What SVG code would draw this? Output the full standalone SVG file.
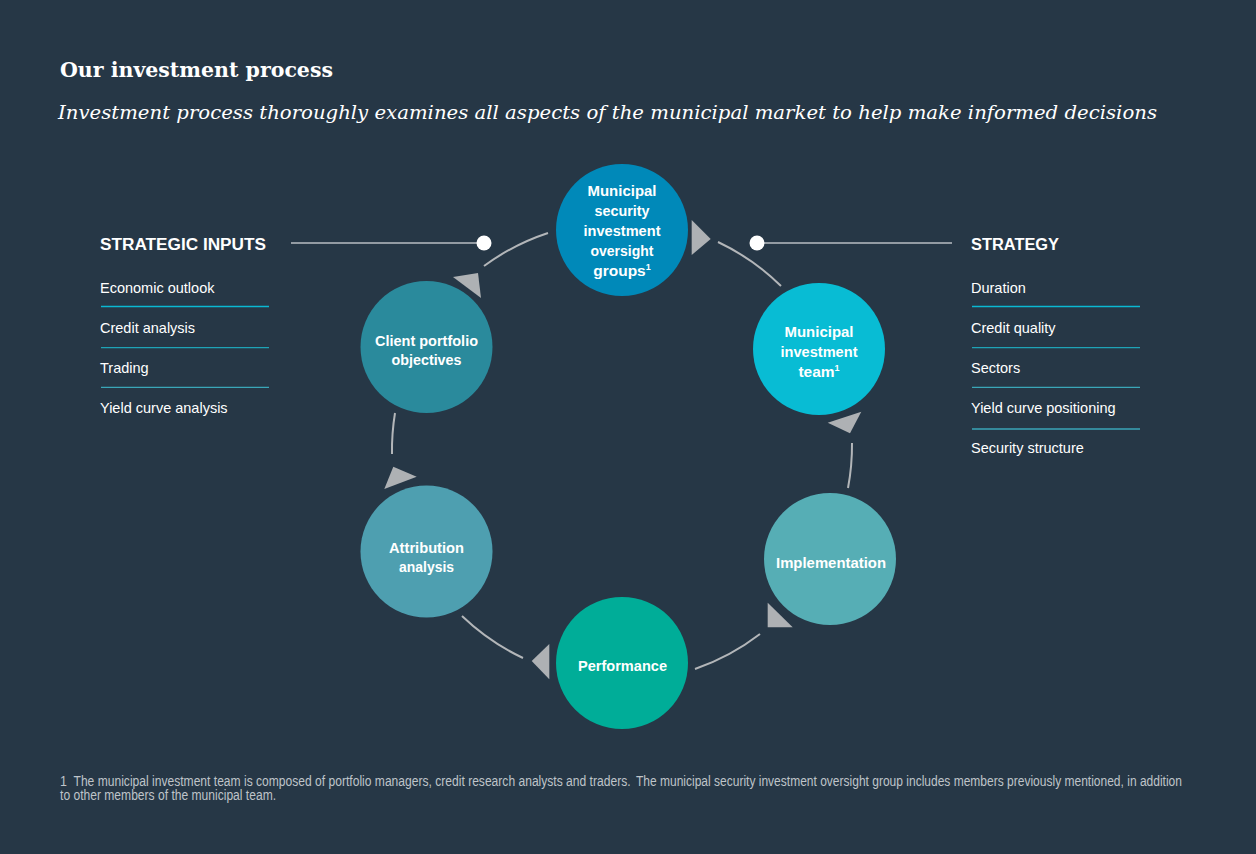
<svg xmlns="http://www.w3.org/2000/svg" width="1256" height="854" viewBox="0 0 1256 854">
<style>
.bg{fill:#263746}
.title{font-family:"DejaVu Serif","Liberation Serif",serif;font-weight:bold;font-size:20.5px;fill:#ffffff}
.sub{font-family:"DejaVu Serif","Liberation Serif",serif;font-style:italic;font-size:19px;fill:#ffffff}
.node{font-family:"Liberation Sans",Arial,sans-serif;font-weight:bold;font-size:15.5px;fill:#ffffff;text-anchor:middle}
.hdr{font-family:"Liberation Sans",Arial,sans-serif;font-weight:bold;font-size:16px;fill:#ffffff}
.item{font-family:"Liberation Sans",Arial,sans-serif;font-size:14.5px;fill:#ffffff}
.foot{font-family:"Liberation Sans",Arial,sans-serif;font-size:14.5px;fill:#bfc4c9}
.arc{fill:none;stroke:#b3b6b9;stroke-width:2}
.tri{fill:#aeb1b4}
.lead{stroke:#ffffff;stroke-width:1.2}
.dot{fill:#ffffff}
.sep1{stroke:#0ab8d2;stroke-width:1.3}
.sep2{stroke:#1ea3b6;stroke-width:1.3}
.sep3{stroke:#3aa6b8;stroke-width:1.3}
</style>
<rect class="bg" x="0" y="0" width="1256" height="854"/>
<text class="title" x="60" y="77" textLength="273" lengthAdjust="spacingAndGlyphs">Our investment process</text>
<text class="sub" x="58" y="118.5" textLength="1099" lengthAdjust="spacingAndGlyphs">Investment process thoroughly examines all aspects of the municipal market to help make informed decisions</text>

<g id="connectors">
<path class="arc" d="M484,266 A230,230 0 0 1 548,233"/>
<path class="arc" d="M718,242 A230,230 0 0 1 781,286"/>
<path class="arc" d="M852,443 A230,230 0 0 1 848,488"/>
<path class="arc" d="M760,634 A230,230 0 0 1 695,669"/>
<path class="arc" d="M523,658 A230,230 0 0 1 462,616"/>
<path class="arc" d="M392,454 A230,230 0 0 1 395,413"/>
<polygon class="tri" points="691.7,220 691.7,255 710.7,239"/>
<polygon class="tri" points="827.7,422.7 861.3,411.7 850,433.3"/>
<polygon class="tri" points="767.7,602.7 767.7,627.3 792.7,627.3"/>
<polygon class="tri" points="531.7,661 549.3,644 549.3,679.3"/>
<polygon class="tri" points="384.3,489 393.3,466.7 416.7,476.7"/>
<polygon class="tri" points="453,277 478,273 481,298"/>
<line class="lead" x1="291" y1="243" x2="484" y2="243"/>
<circle class="dot" cx="484" cy="243" r="7.5"/>
<line class="lead" x1="757" y1="243" x2="952" y2="243"/>
<circle class="dot" cx="757" cy="243" r="7.5"/>
</g>

<g id="node-oversight">
<circle cx="622" cy="230" r="66" fill="#0089b9"/>
<text class="node" x="622" y="196" textLength="69" lengthAdjust="spacingAndGlyphs">Municipal</text>
<text class="node" x="622" y="216" textLength="55" lengthAdjust="spacingAndGlyphs">security</text>
<text class="node" x="622" y="236" textLength="77" lengthAdjust="spacingAndGlyphs">investment</text>
<text class="node" x="622" y="256" textLength="63" lengthAdjust="spacingAndGlyphs">oversight</text>
<text class="node" x="622" y="276">groups<tspan font-size="9" dy="-6">1</tspan></text>
</g>

<g id="node-team">
<circle cx="819" cy="349" r="66" fill="#08bcd4"/>
<text class="node" x="819" y="337" textLength="69" lengthAdjust="spacingAndGlyphs">Municipal</text>
<text class="node" x="819" y="357" textLength="77" lengthAdjust="spacingAndGlyphs">investment</text>
<text class="node" x="819" y="377">team<tspan font-size="9" dy="-6">1</tspan></text>
</g>

<g id="node-implementation">
<circle cx="830" cy="559" r="66" fill="#56aeb5"/>
<text class="node" x="831" y="568" textLength="110" lengthAdjust="spacingAndGlyphs">Implementation</text>
</g>

<g id="node-performance">
<circle cx="622" cy="663" r="66" fill="#00ad98"/>
<text class="node" x="622.5" y="671" textLength="89" lengthAdjust="spacingAndGlyphs">Performance</text>
</g>

<g id="node-attribution">
<circle cx="426.5" cy="551.5" r="66" fill="#4e9fb0"/>
<text class="node" x="426.5" y="552.5" textLength="75" lengthAdjust="spacingAndGlyphs">Attribution</text>
<text class="node" x="426.5" y="572" textLength="55" lengthAdjust="spacingAndGlyphs">analysis</text>
</g>

<g id="node-client">
<circle cx="426.5" cy="347" r="66" fill="#2a8a9c"/>
<text class="node" x="426.5" y="345.5" textLength="103" lengthAdjust="spacingAndGlyphs">Client portfolio</text>
<text class="node" x="426.5" y="365" textLength="70" lengthAdjust="spacingAndGlyphs">objectives</text>
</g>

<g id="strategic-inputs">
<text class="hdr" x="100" y="249.5" textLength="166" lengthAdjust="spacingAndGlyphs">STRATEGIC INPUTS</text>
<text class="item" x="100" y="292.7">Economic outlook</text>
<line class="sep1" x1="101" y1="306.5" x2="269" y2="306.5"/>
<text class="item" x="100" y="332.7">Credit analysis</text>
<line class="sep2" x1="101" y1="347.7" x2="269" y2="347.7"/>
<text class="item" x="100" y="372.7">Trading</text>
<line class="sep3" x1="101" y1="387.3" x2="269" y2="387.3"/>
<text class="item" x="100" y="412.7">Yield curve analysis</text>
</g>

<g id="strategy">
<text class="hdr" x="971" y="249.5" textLength="88" lengthAdjust="spacingAndGlyphs">STRATEGY</text>
<text class="item" x="971" y="292.7">Duration</text>
<line class="sep1" x1="972" y1="306.5" x2="1140" y2="306.5"/>
<text class="item" x="971" y="332.7">Credit quality</text>
<line class="sep2" x1="972" y1="347.7" x2="1140" y2="347.7"/>
<text class="item" x="971" y="372.7">Sectors</text>
<line class="sep3" x1="972" y1="387.3" x2="1140" y2="387.3"/>
<text class="item" x="971" y="412.7">Yield curve positioning</text>
<line class="sep3" x1="972" y1="429" x2="1140" y2="429"/>
<text class="item" x="971" y="452.7">Security structure</text>
</g>

<g id="footnote" transform="scale(0.86 1)">
<text class="foot" x="69.8" y="786">1</text>
<text class="foot" x="85.5" y="786" textLength="647.7" lengthAdjust="spacingAndGlyphs">The municipal investment team is composed of portfolio managers, credit research analysts and traders.</text>
<text class="foot" x="739.5" y="786" textLength="634.9" lengthAdjust="spacingAndGlyphs">The municipal security investment oversight group includes members previously mentioned, in addition</text>
<text class="foot" x="69.8" y="800" textLength="251.2" lengthAdjust="spacingAndGlyphs">to other members of the municipal team.</text>
</g>
</svg>
